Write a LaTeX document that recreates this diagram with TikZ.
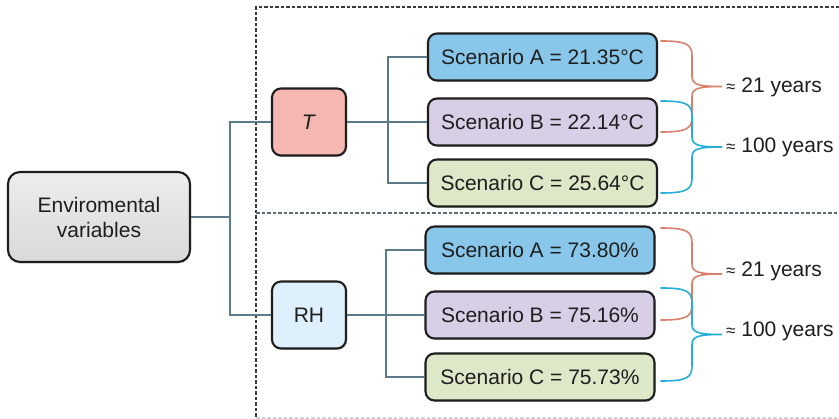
\documentclass[tikz,border=0pt]{standalone}
\usepackage{fontspec}
\setmainfont{Liberation Sans}
\usetikzlibrary{shadows}

\definecolor{boxA}{HTML}{88C7E9}
\definecolor{boxB}{HTML}{D8CEE6}
\definecolor{boxC}{HTML}{DDE8C8}
\definecolor{boxT}{HTML}{F5B7B1}
\definecolor{boxRH}{HTML}{DDF0FB}
\definecolor{boxMainTop}{HTML}{EDEDED}
\definecolor{boxMainBot}{HTML}{D9D9D9}
\definecolor{wire}{HTML}{5B7B8A}
\definecolor{braceRed}{HTML}{D7806C}
\definecolor{braceBlue}{HTML}{25AED6}
\definecolor{ink}{HTML}{1E1E1E}
\definecolor{frameDark}{HTML}{3A3A3A}
\definecolor{frameMid}{HTML}{5A6C78}

\tikzset{
  basebox/.style={draw=ink, line width=2.1pt, rounded corners=9pt,
    text=ink, font=\fontsize{21}{25}\selectfont, inner sep=0pt,
    drop shadow={opacity=0.25, shadow xshift=1pt, shadow yshift=-1.5pt}},
  scen/.style={basebox, minimum width=229pt, minimum height=47pt},
  varbox/.style={basebox, minimum width=74pt, minimum height=67pt},
  wireline/.style={draw=wire, line width=1.4pt},
  bracestyle/.style={line width=1.6pt, line cap=round},
  yearlabel/.style={anchor=west, text=ink, inner sep=0pt,
    font=\fontsize{21}{25}\selectfont},
  framedash/.style={line width=1.3pt, dash pattern=on 3.5pt off 2pt}
}

% curly brace between two heights, tip to the right
\newcommand\sidebrace[3]{%
  \pgfmathsetmacro\bm{(#1+#2)/2}%
  \draw[bracestyle,#3]
    (661,#1) .. controls (686,#1) and (692,{#1+3}) .. (692,{#1+15})
    -- (692,{\bm-10}) .. controls (692,{\bm-2}) and (698,\bm) .. (722,\bm)
    .. controls (698,\bm) and (692,{\bm+2}) .. (692,{\bm+10})
    -- (692,{#2-15}) .. controls (692,{#2-3}) and (686,#2) .. (661,#2);%
}

\begin{document}
\begin{tikzpicture}[x=1pt, y=-1pt]
\useasboundingbox (0,0) rectangle (839,419);
\fill[white] (0,0) rectangle (839,419);

% dashed frame around the two variable groups
\draw[framedash, draw=frameDark] (845,7) -- (256,7) -- (256,419);
\draw[framedash, draw=frameMid] (256,213) -- (845,213);
\draw[framedash, draw=gray!35] (256,418) -- (845,418);

% nodes
\node[basebox, top color=boxMainTop, bottom color=boxMainBot,
      minimum width=182pt, minimum height=90pt,
      align=center, rounded corners=12pt] (env) at (99,217)
      {Enviromental\\variables};

\node[varbox, fill=boxT] (T) at (309,122) {\textit{T}};
\node[varbox, fill=boxRH] (RH) at (309,315) {RH};

\node[scen, fill=boxA] (TA) at (542.5,57) {Scenario A = 21.35°C};
\node[scen, fill=boxB] (TB) at (542.5,122) {Scenario B = 22.14°C};
\node[scen, fill=boxC] (TC) at (542.5,183) {Scenario C = 25.64°C};

\node[scen, fill=boxA] (RA) at (540,250) {Scenario A = 73.80\%};
\node[scen, fill=boxB] (RB) at (540,315) {Scenario B = 75.16\%};
\node[scen, fill=boxC] (RC) at (540,377) {Scenario C = 75.73\%};

% connectors
\coordinate (busL) at (230,217);
\coordinate (busT) at (388,122);
\coordinate (busR) at (386,315);

\draw[wireline] (env.east) -- (busL);
\draw[wireline] (T.west) -| (busL) |- (RH.west);
\draw[wireline] (T.east) -- (TB.west);
\draw[wireline] (TA.west) -| (busT) |- (TC.west);
\draw[wireline] (RH.east) -- (RB.west);
\draw[wireline] (RA.west) -| (busR) |- (RC.west);

% braces grouping the scenarios
\sidebrace{41}{132}{braceRed}
\sidebrace{101}{193}{braceBlue}
\sidebrace{228}{320}{braceRed}
\sidebrace{288}{381}{braceBlue}

\node[yearlabel] (y1) at (726,87) {{\fontsize{17}{17}\selectfont ≈} 21 years};
\node[yearlabel] (y2) at (726,147) {{\fontsize{17}{17}\selectfont ≈} 100 years};
\node[yearlabel] (y3) at (726,271) {{\fontsize{17}{17}\selectfont ≈} 21 years};
\node[yearlabel] (y4) at (726,331) {{\fontsize{17}{17}\selectfont ≈} 100 years};
\end{tikzpicture}
\end{document}
